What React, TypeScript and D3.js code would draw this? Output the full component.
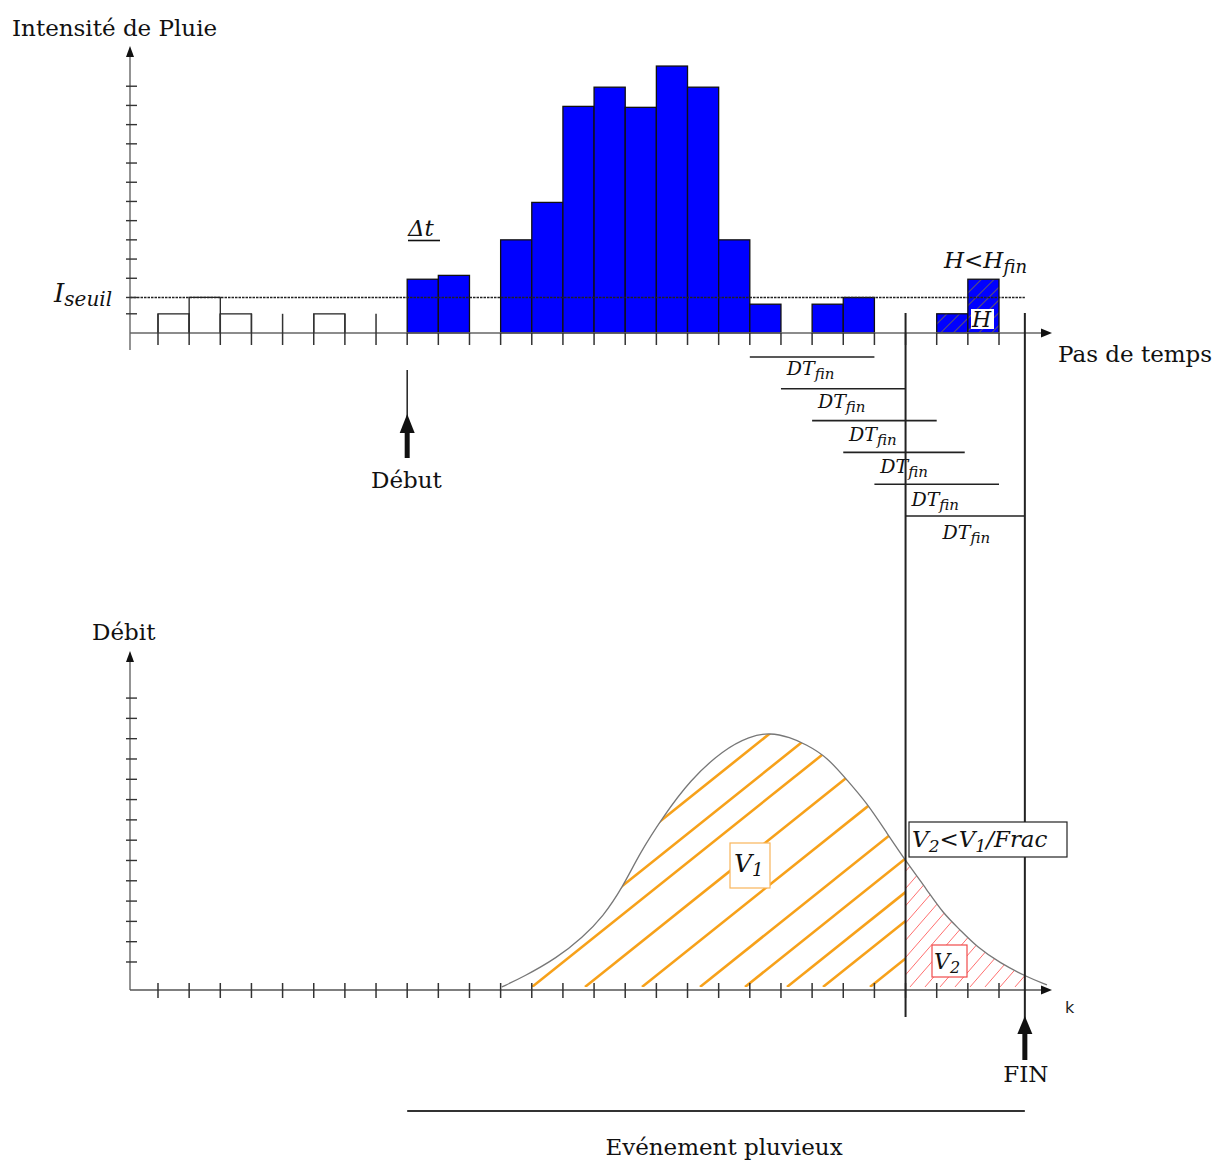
import React from "react";
import * as d3 from "d3";

// ---------- DATA ----------
// Rain steps (bar i spans time step i .. i+1)
const outlineStart = [1, 2, 3, 6];
const outlineValue = [1, 1.85, 1, 1];
const blueStart = [9, 10, 12, 13, 14, 15, 16, 17, 18, 19, 20, 22, 23];
const blueValue = [2.8, 3.0, 4.85, 6.8, 11.8, 12.8, 11.75, 13.9, 12.8, 4.85, 1.5, 1.5, 1.85];
const hatchStart = [26, 27];
const hatchValue = [1, 2.8];
const thresholdValue = 1.85;
const topYTicks = [1, 1.85, 2.85, 3.85, 4.85, 5.85, 6.85, 7.85, 8.85, 9.85, 10.85, 11.85, 12.85];
const timeTicks = d3.range(1, 29);
const tallTickSteps = [1, 2, 3, 4, 5, 6, 7, 8];

// DT_fin windows
const dtStart = [20, 21, 22, 23, 24, 25];
const dtEnd = [24, 25, 26, 26.9, 28, 28.83];

// Event markers
const debutStep = 9;
const cutStep = 25;
const finStep = 28.83;

// Hydrograph
const flowT = [12.04, 12.72, 13.81, 14.64, 15.28, 15.92, 16.47, 17.21, 18.08, 19.14, 20.0, 20.65, 21.29, 21.8, 22.48, 23.12, 23.76, 24.4, 25.05, 25.69, 26.2, 26.75, 27.29, 28.03, 28.9, 29.54];
const flowQ = [0.15, 0.64, 1.58, 2.61, 3.6, 5.07, 6.75, 8.52, 10.34, 11.82, 12.5, 12.68, 12.45, 12.1, 11.48, 10.34, 9.21, 7.73, 6.26, 4.93, 3.79, 2.96, 2.12, 1.33, 0.64, 0.25];
const bottomYTicks = [1.38, 2.38, 3.38, 4.38, 5.38, 6.38, 7.38, 8.38, 9.38, 10.38, 11.38, 12.38, 13.38, 14.38];

// hatch line anchors (x position where each hatch stroke meets the base)
const orangeStarts = [453, 496, 532, 585, 642, 700, 745, 787, 823, 870];

const serif = "'DejaVu Serif', serif";

export default function App() {
  const x = d3.scaleLinear().domain([0, 28]).range([126.85, 999]);
  const yT = d3.scaleLinear().domain([0, 14.84]).range([333, 48]);
  const yB = d3.scaleLinear().domain([0, 16.65]).range([990, 652]);

  const pts: [number, number][] = flowT.map((t, i) => [t, flowQ[i]]);
  const curve = d3
    .line<[number, number]>()
    .x((d) => x(d[0]))
    .y((d) => yB(d[1]))
    .curve(d3.curveBasis)(pts) as string;
  const area = d3
    .area<[number, number]>()
    .x((d) => x(d[0]))
    .y0(yB(0.15))
    .y1((d) => yB(d[1]))
    .curve(d3.curveBasis)(pts) as string;

  const axisX0 = 130;
  const xCut = x(cutStep);
  const xFin = x(finStep);
  const baseB = yB(0.15);

  const redStarts = d3.range(700, 1060, 15);

  const dtY = (k: number) => 357 + 31.8 * k;

  return (
    <svg
      width={1222}
      height={1160}
      style={{ position: "absolute", left: 0, top: 0, background: "#fff" }}
      fontFamily={serif}
    >
      <defs>
        <pattern id="hatchBlue" patternUnits="userSpaceOnUse" width={9} height={9} patternTransform="rotate(45)">
          <rect x={0} y={0} width={9} height={9} fill="#0000ff" />
          <line x1={0} y1={0} x2={0} y2={9} stroke="#8a7a2a" strokeWidth={1.4} />
        </pattern>
        <clipPath id="areaClip">
          <path d={area} />
        </clipPath>
        <clipPath id="leftClip">
          <rect x={0} y={0} width={xCut} height={1160} />
        </clipPath>
        <clipPath id="rightClip">
          <rect x={xCut} y={0} width={xFin - xCut} height={1160} />
        </clipPath>
      </defs>
      <rect x={0} y={0} width={1222} height={1160} fill="#fff" />

      {/* ================= TOP CHART ================= */}
      <text x={12} y={36} fontSize={23} fill="#111">Intensité de Pluie</text>

      {/* outline (below threshold) bars */}
      {outlineStart.map((s, i) => (
        <path
          key={"o" + i}
          d={`M${x(s)},${yT(0)}V${yT(outlineValue[i])}H${x(s + 1)}V${yT(0)}`}
          fill="none"
          stroke="#222"
          strokeWidth={1.3}
        />
      ))}
      {/* blue bars */}
      {blueStart.map((s, i) => (
        <rect
          key={"b" + i}
          x={x(s)}
          y={yT(blueValue[i])}
          width={x(s + 1) - x(s)}
          height={yT(0) - yT(blueValue[i])}
          fill="#0000ff"
          stroke="#111"
          strokeWidth={1.3}
        />
      ))}
      {/* hatched bars */}
      {hatchStart.map((s, i) => (
        <rect
          key={"h" + i}
          x={x(s)}
          y={yT(hatchValue[i])}
          width={x(s + 1) - x(s)}
          height={yT(0) - yT(hatchValue[i])}
          fill="url(#hatchBlue)"
          stroke="#111"
          strokeWidth={1.3}
        />
      ))}
      <rect x={971} y={309} width={23} height={20} fill="#fff" />
      <text x={972} y={327} fontSize={22} fontStyle="italic" fill="#111">H</text>

      {/* threshold */}
      <line x1={axisX0} x2={xFin} y1={yT(thresholdValue)} y2={yT(thresholdValue)} stroke="#222" strokeWidth={1.5} strokeDasharray="2.5,1" />

      {/* axes */}
      <line x1={axisX0} x2={axisX0} y1={350} y2={55} stroke="#666" strokeWidth={1.4} />
      <path d={`M${axisX0},46L${axisX0 - 4},57L${axisX0 + 4},57Z`} fill="#111" />
      {topYTicks.map((v, i) => (
        <line key={"yt" + i} x1={126} x2={137} y1={yT(v)} y2={yT(v)} stroke="#333" strokeWidth={1.4} />
      ))}
      <line x1={axisX0} x2={1043} y1={yT(0)} y2={yT(0)} stroke="#666" strokeWidth={1.4} />
      <path d={`M1052,${yT(0)}L1041,${yT(0) - 4.5}L1041,${yT(0) + 4.5}Z`} fill="#111" />
      {timeTicks.map((t) => (
        <line
          key={"xt" + t}
          x1={x(t)}
          x2={x(t)}
          y1={tallTickSteps.includes(t) ? yT(1) : yT(0)}
          y2={345}
          stroke="#333"
          strokeWidth={1.5}
        />
      ))}

      {/* labels top */}
      <text x={54} y={302} fontSize={26} fontStyle="italic" fill="#111">
        I<tspan fontSize={20} dy={4}>seuil</tspan>
      </text>
      <text x={408} y={236} fontSize={23} fontStyle="italic" fill="#111">Δt</text>
      <line x1={408} x2={440} y1={240.5} y2={240.5} stroke="#111" strokeWidth={1.6} />
      <text x={944} y={268} fontSize={23} fontStyle="italic" fill="#111">
        H&lt;H<tspan fontSize={18} dy={5}>fin</tspan>
      </text>
      <text x={1058} y={362} fontSize={23} fill="#111">Pas de temps</text>

      {/* DT_fin windows */}
      {dtStart.map((s, k) => (
        <g key={"dt" + k}>
          <line x1={x(s)} x2={x(dtEnd[k])} y1={dtY(k)} y2={dtY(k)} stroke="#222" strokeWidth={1.6} />
          <text x={x(s) + 37} y={dtY(k) + 18 + k} fontSize={19} fontStyle="italic" fill="#111">
            DT<tspan fontSize={15} dy={4}>fin</tspan>
          </text>
        </g>
      ))}

      {/* Début marker */}
      <line x1={x(debutStep)} x2={x(debutStep)} y1={370} y2={418} stroke="#111" strokeWidth={1.4} />
      <path d={`M${x(debutStep)},414L${x(debutStep) - 7.5},433L${x(debutStep) + 7.5},433Z`} fill="#111" />
      <line x1={x(debutStep)} x2={x(debutStep)} y1={430} y2={458} stroke="#111" strokeWidth={5} />
      <text x={371} y={488} fontSize={23} fill="#111">Début</text>

      {/* ================= BOTTOM CHART ================= */}
      <text x={92} y={640} fontSize={23} fill="#111">Débit</text>

      {/* hatching V1 / V2 */}
      <g clipPath="url(#areaClip)">
        <g clipPath="url(#leftClip)">
          {orangeStarts.map((s, i) => (
            <line key={"or" + i} x1={s} y1={baseB} x2={s + 500} y2={baseB - 0.8 * 500} stroke="#f7a11a" strokeWidth={2.6} />
          ))}
        </g>
        <g clipPath="url(#rightClip)">
          {redStarts.map((s, i) => (
            <line key={"rd" + i} x1={s} y1={baseB} x2={s + 250} y2={baseB - 1.15 * 250} stroke="#ff6f6f" strokeWidth={1} />
          ))}
        </g>
      </g>
      <path d={curve} fill="none" stroke="#777" strokeWidth={1.3} />

      {/* axes bottom */}
      <line x1={axisX0} x2={axisX0} y1={yB(0)} y2={660} stroke="#666" strokeWidth={1.4} />
      <path d={`M${axisX0},651L${axisX0 - 4},662L${axisX0 + 4},662Z`} fill="#111" />
      {bottomYTicks.map((v, i) => (
        <line key={"yb" + i} x1={126} x2={137} y1={yB(v)} y2={yB(v)} stroke="#333" strokeWidth={1.4} />
      ))}
      <line x1={axisX0} x2={1043} y1={yB(0)} y2={yB(0)} stroke="#555" strokeWidth={1.6} />
      <path d={`M1052,${yB(0)}L1041,${yB(0) - 4.5}L1041,${yB(0) + 4.5}Z`} fill="#111" />
      {timeTicks.map((t) => (
        <line key={"xb" + t} x1={x(t)} x2={x(t)} y1={yB(0) - 7} y2={yB(0) + 8} stroke="#333" strokeWidth={1.5} />
      ))}
      <text x={1065} y={1013} fontSize={16} fontFamily="'DejaVu Sans', sans-serif" fill="#222">k</text>

      {/* vertical event lines */}
      <line x1={xCut} x2={xCut} y1={313} y2={1017} stroke="#222" strokeWidth={2} />
      <line x1={xFin} x2={xFin} y1={313} y2={1020} stroke="#222" strokeWidth={2} />

      {/* V1 box */}
      <rect x={730} y={843} width={40} height={45} fill="#fff" stroke="#f9b55a" strokeWidth={1.2} />
      <text x={734} y={872} fontSize={25} fontStyle="italic" fill="#111">
        V<tspan fontSize={18} dy={4}>1</tspan>
      </text>
      {/* V2 box */}
      <rect x={932} y={945} width={35} height={32} fill="#fff" stroke="#f04a4a" strokeWidth={1.2} />
      <text x={934} y={969} fontSize={22} fontStyle="italic" fill="#111">
        V<tspan fontSize={16} dy={4}>2</tspan>
      </text>
      {/* V2 < V1/Frac */}
      <rect x={909} y={822} width={158} height={35} fill="#fff" stroke="#222" strokeWidth={1.2} />
      <text x={912} y={847} fontSize={23} fontStyle="italic" fill="#111">
        V<tspan fontSize={17} dy={5}>2</tspan>
        <tspan dy={-5}>&lt;V</tspan>
        <tspan fontSize={17} dy={5}>1</tspan>
        <tspan dy={-5}>/Frac</tspan>
      </text>

      {/* FIN marker */}
      <path d={`M${xFin},1016L${xFin - 7.5},1034L${xFin + 7.5},1034Z`} fill="#111" />
      <line x1={xFin} x2={xFin} y1={1030} y2={1060} stroke="#111" strokeWidth={5} />
      <text x={xFin + 1} y={1082} fontSize={23} textAnchor="middle" fill="#111">FIN</text>

      {/* Event span */}
      <line x1={x(debutStep)} x2={xFin} y1={1111} y2={1111} stroke="#333" strokeWidth={2} />
      <text x={724} y={1155} fontSize={23} textAnchor="middle" fill="#111">Evénement pluvieux</text>
    </svg>
  );
}
